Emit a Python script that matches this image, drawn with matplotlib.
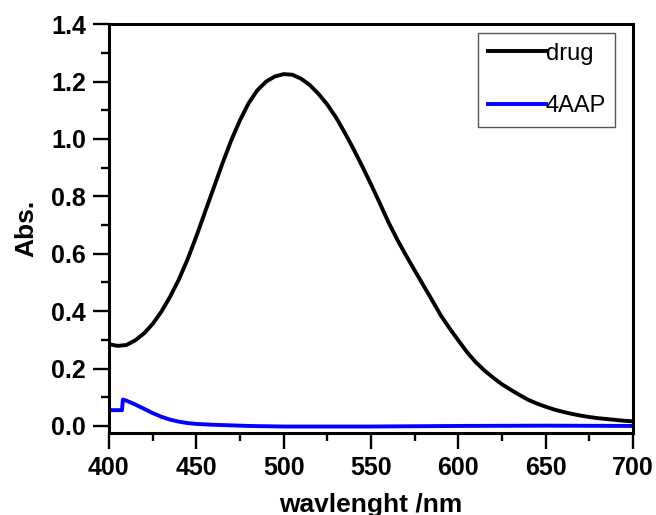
import matplotlib
matplotlib.use('Agg')
import matplotlib.pyplot as plt
from matplotlib.ticker import MultipleLocator, FormatStrFormatter

plt.rcParams['font.family'] = ['Liberation Sans', 'DejaVu Sans']

# drug spectrum
wl_drug = [400, 405, 410, 415, 420, 425, 430, 435, 440, 445, 450, 455, 460, 465,
           470, 475, 480, 485, 490, 495, 500, 505, 510, 515, 520, 525, 530, 535,
           540, 545, 550, 555, 560, 565, 570, 575, 580, 585, 590, 595, 600, 605,
           610, 615, 620, 625, 630, 635, 640, 645, 650, 655, 660, 665, 670, 675,
           680, 685, 690, 695, 700]
abs_drug = [0.285, 0.279, 0.282, 0.298, 0.322, 0.355, 0.398, 0.450, 0.510, 0.580,
            0.660, 0.745, 0.830, 0.915, 0.995, 1.065, 1.125, 1.170, 1.200, 1.218,
            1.226, 1.224, 1.210, 1.188, 1.157, 1.120, 1.075, 1.022, 0.965, 0.905,
            0.842, 0.777, 0.710, 0.650, 0.595, 0.542, 0.490, 0.438, 0.385, 0.340,
            0.298, 0.257, 0.222, 0.193, 0.168, 0.145, 0.126, 0.108, 0.091, 0.078,
            0.067, 0.057, 0.049, 0.042, 0.036, 0.031, 0.027, 0.024, 0.021, 0.018,
            0.016]

# 4AAP spectrum
wl_4aap = [400, 404, 407.5, 408, 410, 415, 420, 425, 430, 435, 440, 445, 450,
           460, 470, 480, 500, 550, 600, 650, 700]
abs_4aap = [0.055, 0.055, 0.055, 0.092, 0.088, 0.075, 0.060, 0.045, 0.032, 0.022,
            0.015, 0.010, 0.007, 0.004, 0.002, 0.000, -0.002, -0.002, 0.000,
            0.001, 0.000]

fig = plt.figure(figsize=(6.56, 5.15), dpi=100)
ax = fig.add_axes([0.166, 0.159, 0.799, 0.794])

ax.plot(wl_drug, abs_drug, color='black', linewidth=2.8, label='drug')
ax.plot(wl_4aap, abs_4aap, color='blue', linewidth=2.8, label='4AAP')

ax.set_xlim(400, 700)
ax.set_ylim(-0.025, 1.4)
ax.xaxis.set_major_locator(MultipleLocator(50))
ax.xaxis.set_minor_locator(MultipleLocator(25))
ax.yaxis.set_major_locator(MultipleLocator(0.2))
ax.yaxis.set_minor_locator(MultipleLocator(0.1))
ax.yaxis.set_major_formatter(FormatStrFormatter('%.1f'))

for s in ax.spines.values():
    s.set_linewidth(2.2)
ax.tick_params(which='major', direction='out', length=11.5, width=1.7,
               labelsize=18, pad=5, top=False, right=False)
ax.tick_params(which='minor', direction='out', length=5.8, width=1.7,
               top=False, right=False)
for lab in ax.get_xticklabels() + ax.get_yticklabels():
    lab.set_fontweight('bold')

ax.set_xlabel('wavlenght /nm', fontsize=19, fontweight='bold', labelpad=9)
ax.set_ylabel('Abs.', fontsize=19, fontweight='bold', labelpad=9)

leg = ax.legend(loc='upper right', bbox_to_anchor=(0.966, 0.978), fontsize=17,
                fancybox=False, edgecolor='#555555', framealpha=1,
                handlelength=2.45, handletextpad=0.0, labelspacing=1.29,
                borderpad=0.4, borderaxespad=0)
leg.get_frame().set_linewidth(1.0)

fig.savefig('out.png', dpi=100)
